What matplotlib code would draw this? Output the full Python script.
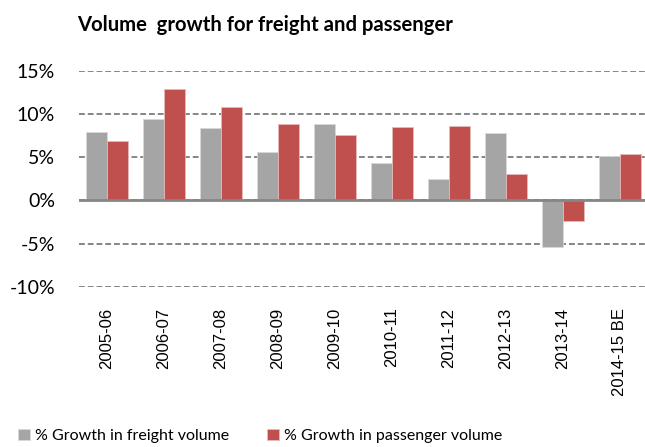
import numpy as np
import matplotlib
matplotlib.use('Agg')
import matplotlib.pyplot as plt
from matplotlib import font_manager
from matplotlib.ticker import FuncFormatter

# Data
years = ['2005-06', '2006-07', '2007-08', '2008-09', '2009-10',
         '2010-11', '2011-12', '2012-13', '2013-14', '2014-15 BE']
freight = [7.9, 9.4, 8.4, 5.65, 8.9, 4.3, 2.5, 7.8, -5.45, 5.2]
passenger = [6.9, 12.9, 10.8, 8.8, 7.55, 8.5, 8.65, 3.05, -2.4, 5.4]
yticks = [-10, -5, 0, 5, 10, 15]

grey = '#A5A5A5'
red = '#C0504D'
line_col = '#868686'

names = {f.name for f in font_manager.fontManager.ttflist}
narrow = 'Liberation Sans Narrow' if 'Liberation Sans Narrow' in names else 'Liberation Sans'
xsize = 14 if narrow == 'Liberation Sans Narrow' else 12

plt.rcParams['font.family'] = ['Lato', 'DejaVu Sans']

fig = plt.figure(figsize=(6.45, 4.47), dpi=100)
ax = fig.add_axes([78.5 / 645, 1 - 286.7 / 447, 570 / 645, (286.7 - 71) / 447])

x = np.arange(len(years))
w = 0.368
ax.bar(x - w / 2, freight, w, color=grey, edgecolor='#D9D9D9', linewidth=0.6,
       label='% Growth in freight volume', zorder=3)
ax.bar(x + w / 2, passenger, w, color=red, edgecolor='#E6B9B8', linewidth=0.6,
       label='% Growth in passenger volume', zorder=3)

ax.set_xlim(-0.5, len(years) - 0.5)
ax.set_ylim(-10, 15)
ax.set_yticks(yticks)
ax.yaxis.set_major_formatter(FuncFormatter(lambda v, p: f'{v:.0f}%'))
ax.grid(axis='y', linestyle=(0, (3, 1.5)), color=line_col, linewidth=1.4, zorder=0)
ax.axhline(0, color=line_col, linewidth=2, zorder=4)

for s in ax.spines.values():
    s.set_visible(False)

ax.set_xticks(x)
ax.set_xticklabels(years, rotation=90, family=narrow, fontsize=xsize, va='top')
ax.tick_params(axis='x', length=0, pad=15)
ax.tick_params(axis='y', length=0, pad=17, labelsize=14)

fig.text(265 / 645, 1 - 25 / 447, 'Volume  growth for freight and passenger',
         ha='center', va='center', fontsize=14.6, fontweight='bold')

fig.legend(loc='center', bbox_to_anchor=(260 / 645, 1 - 436 / 447), ncol=2,
           frameon=False, fontsize=11.5, handlelength=0.75, handleheight=0.75,
           handletextpad=0.3, columnspacing=2.4, borderaxespad=0)

fig.savefig('out.png', dpi=100)
